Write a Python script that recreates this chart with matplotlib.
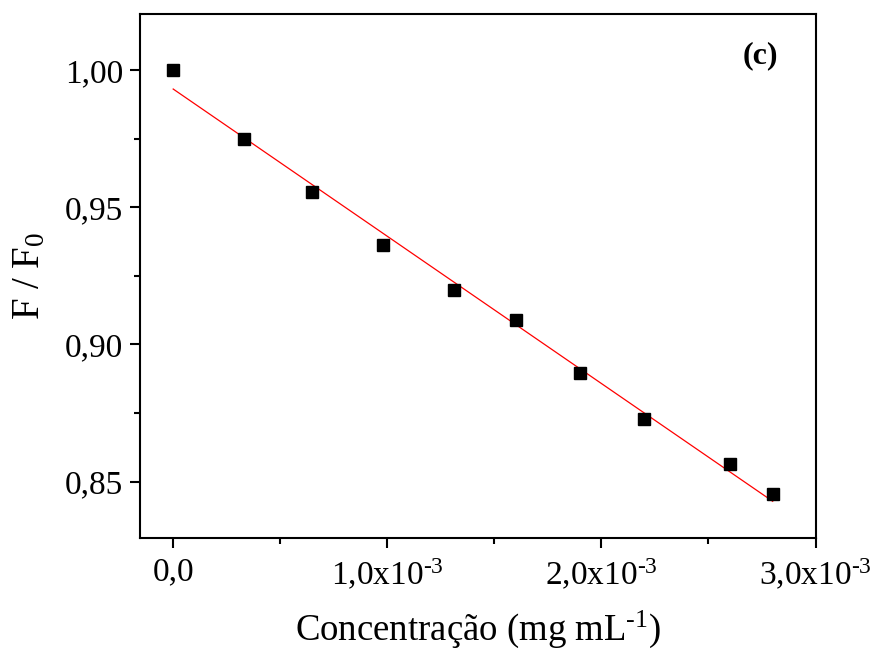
import numpy as np
import matplotlib
matplotlib.use("Agg")
import matplotlib.pyplot as plt
from matplotlib.ticker import MultipleLocator, FuncFormatter

plt.rcParams['font.family'] = ['Liberation Serif', 'DejaVu Serif']
plt.rcParams['mathtext.fontset'] = 'custom'
plt.rcParams['mathtext.rm'] = 'Liberation Serif'
plt.rcParams['mathtext.it'] = 'Liberation Serif:italic'
plt.rcParams['mathtext.bf'] = 'Liberation Serif:bold'

# concentração (mg/mL) e F/F0
concentracao = [0.0, 0.33e-3, 0.65e-3, 0.98e-3, 1.31e-3, 1.60e-3, 1.90e-3, 2.20e-3, 2.60e-3, 2.80e-3]
f_f0 = [1.000, 0.975, 0.9557, 0.9362, 0.9198, 0.9088, 0.8895, 0.8730, 0.8566, 0.8454]

x = np.array(concentracao)
y = np.array(f_f0)
a, b = np.polyfit(x, y, 1)

fig = plt.figure(figsize=(8.75, 6.5), dpi=100)
ax = fig.add_subplot(111)
fig.subplots_adjust(left=0.16, right=0.932, top=0.978, bottom=0.173)

ax.plot(x, a * x + b, color='red', lw=0.9, zorder=2)
ax.plot(x, y, 's', color='black', ms=8.5, zorder=3)

ax.set_xlim(-0.155e-3, 3.0e-3)
ax.set_ylim(0.8296, 1.0204)

ax.xaxis.set_major_locator(MultipleLocator(1e-3))
ax.xaxis.set_minor_locator(MultipleLocator(0.5e-3))
ax.yaxis.set_major_locator(MultipleLocator(0.05))
ax.yaxis.set_minor_locator(MultipleLocator(0.025))

def fmt_x(v, pos):
    if abs(v) < 1e-9:
        return "0,0"
    return "%s,0x10$^{\\text{-3}}$" % int(round(v * 1e3))

def fmt_y(v, pos):
    return ("%.2f" % v).replace(".", ",")

ax.xaxis.set_major_formatter(FuncFormatter(fmt_x))
ax.yaxis.set_major_formatter(FuncFormatter(fmt_y))

for s in ax.spines.values():
    s.set_linewidth(1.5)
ax.tick_params(which='major', direction='out', length=7, width=1.5, labelsize=24, pad=5)
ax.tick_params(which='minor', direction='out', length=4, width=1.5)
ax.tick_params(axis='x', which='major', pad=7)

ax.set_xlabel("Concentração (mg mL$^{\\text{-1}}$)", fontsize=26.5, labelpad=12)
ax.set_ylabel("F / F$_0$", fontsize=28, labelpad=12)

ax.text(0.918, 0.92, "(c)", transform=ax.transAxes, fontsize=23,
        fontweight='bold', ha='center', va='center')

fig.savefig("out.png", dpi=100)
